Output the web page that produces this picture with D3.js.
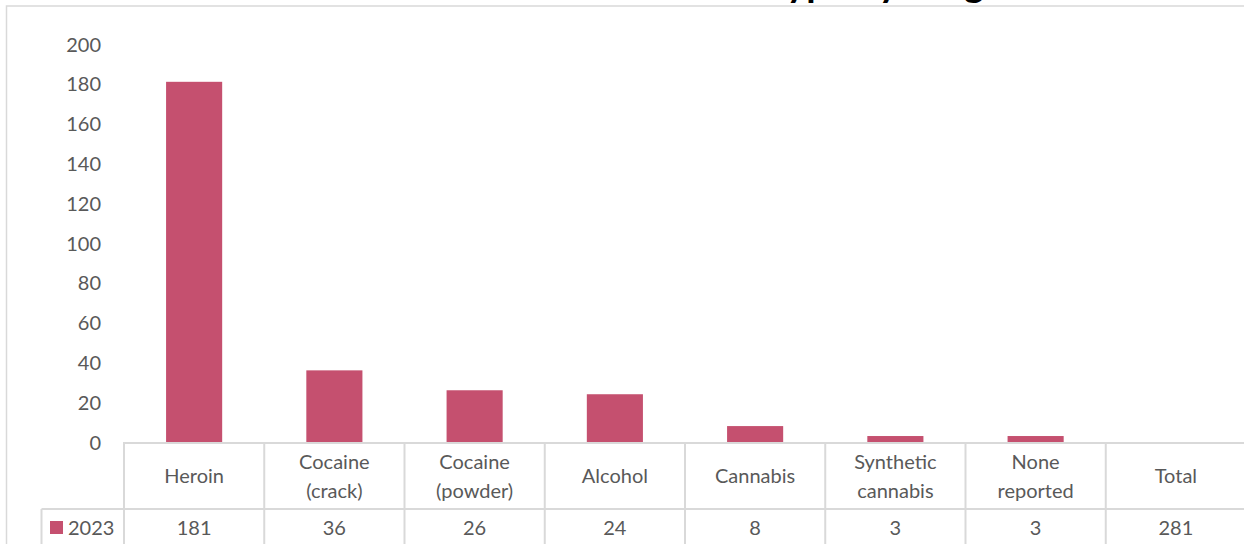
<!DOCTYPE html>
<html>
<head>
<meta charset="utf-8">
<script src="https://cdn.jsdelivr.net/npm/d3@7"></script>
<style>
  html, body { margin: 0; padding: 0; background: #fff; }
  svg { display: block; }
  text { font-family: Lato, "Noto Sans", sans-serif; }
</style>
</head>
<body>
<svg id="chart" width="1244" height="544"></svg>
<script>
const categories = [["Heroin"], ["Cocaine", "(crack)"], ["Cocaine", "(powder)"], ["Alcohol"], ["Cannabis"], ["Synthetic", "cannabis"], ["None", "reported"], ["Total"]];
const values2023 = [181, 36, 26, 24, 8, 3, 3, 281];
const barShown = [true, true, true, true, true, true, true, false];
const seriesName = "2023";
const yTicks = [0, 20, 40, 60, 80, 100, 120, 140, 160, 180, 200];
const titleText = "Number of deaths in 2023 \u2013 substance type by drug";

const W = 1244, H = 544;
const svg = d3.select("#chart");
const gridColor = "#d9d9d9";
const textColor = "#595959";
const barColor = "#c5506f";

const plotLeft = 124, plotRight = 1246;
const y0 = 442, yTop = 44;
const rowSep = 509;
const legendLeft = 41.5;

const keys = categories.map(c => c.join(" "));
const x = d3.scaleBand().domain(keys).range([plotLeft, plotRight]).paddingInner(0).paddingOuter(0);
const y = d3.scaleLinear().domain([0, 200]).range([y0, yTop]);

// title (cropped above the frame, only descenders visible as in the reference)
svg.append("text").attr("x", 984).attr("y", -3).attr("text-anchor", "end")
  .attr("font-size", 38).attr("font-weight", "bold").attr("fill", "#000")
  .text(titleText);

// outer frame
svg.append("rect").attr("x", 6.5).attr("y", 6).attr("width", W + 10).attr("height", H + 10)
  .attr("fill", "#fff").attr("stroke", gridColor).attr("stroke-width", 1.5);

// y axis labels
const yAxis = d3.axisLeft(y).tickValues(yTicks).tickSize(0).tickPadding(0);
const gy = svg.append("g").attr("transform", `translate(101,0)`).call(yAxis);
gy.select(".domain").remove();
gy.selectAll("text").attr("font-size", 20).attr("fill", textColor)
  .attr("font-family", "Lato, 'Noto Sans', sans-serif").attr("dy", "0.35em");

// bars
const barW = x.bandwidth() * 0.4;
svg.append("g").selectAll("rect")
  .data(values2023.map((v, i) => ({ k: keys[i], v, show: barShown[i] })).filter(d => d.show))
  .join("rect")
  .attr("x", d => x(d.k) + (x.bandwidth() - barW) / 2)
  .attr("y", d => y(d.v))
  .attr("width", barW)
  .attr("height", d => y0 - y(d.v))
  .attr("fill", barColor);

// data table lines
const lines = svg.append("g").attr("stroke", gridColor).attr("stroke-width", 2);
lines.append("line").attr("x1", plotLeft).attr("x2", W).attr("y1", y0 + 1).attr("y2", y0 + 1);
lines.append("line").attr("x1", legendLeft).attr("x2", W).attr("y1", rowSep).attr("y2", rowSep);
lines.append("line").attr("x1", legendLeft).attr("x2", legendLeft).attr("y1", rowSep).attr("y2", H);
keys.forEach(k => {
  lines.append("line").attr("x1", x(k)).attr("x2", x(k)).attr("y1", y0).attr("y2", H);
});

// category labels
const catG = svg.append("g");
categories.forEach((lbl, i) => {
  const cx = x(keys[i]) + x.bandwidth() / 2;
  const t = catG.append("text").attr("text-anchor", "middle").attr("font-size", 20).attr("fill", textColor);
  if (lbl.length === 1) {
    t.append("tspan").attr("x", cx).attr("y", 483).text(lbl[0]);
  } else {
    t.append("tspan").attr("x", cx).attr("y", 469).text(lbl[0]);
    t.append("tspan").attr("x", cx).attr("y", 498).text(lbl[1]);
  }
});

// values row
svg.append("g").selectAll("text").data(values2023).join("text")
  .attr("x", (d, i) => x(keys[i]) + x.bandwidth() / 2)
  .attr("y", 535)
  .attr("text-anchor", "middle").attr("font-size", 20).attr("fill", textColor)
  .text(d => d);

// legend key
svg.append("rect").attr("x", 50).attr("y", 521).attr("width", 13).attr("height", 13).attr("fill", barColor);
svg.append("text").attr("x", 68).attr("y", 535).attr("font-size", 20).attr("fill", textColor).text(seriesName);
</script>
</body>
</html>
